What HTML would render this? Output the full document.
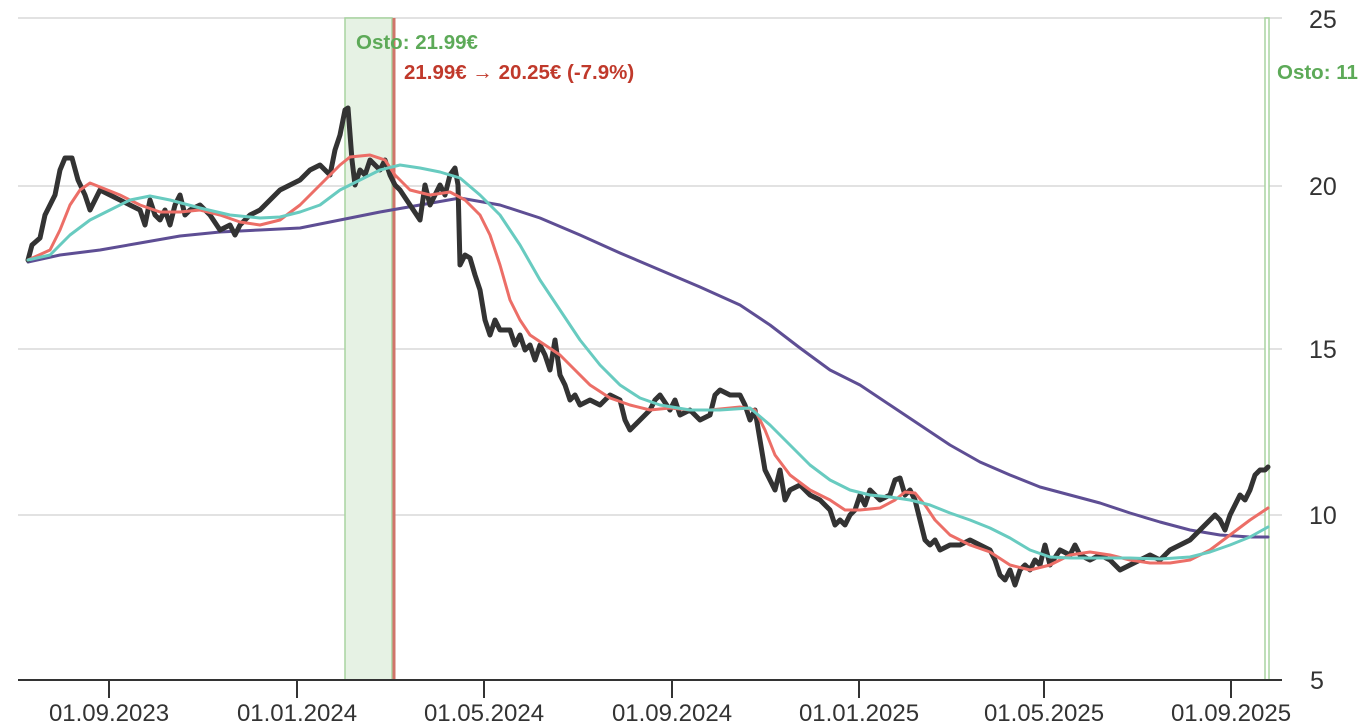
<!DOCTYPE html>
<html><head><meta charset="utf-8"><style>
html,body{margin:0;padding:0;background:#fff;}
svg{display:block;font-family:"Liberation Sans",sans-serif;}
</style></head><body>
<svg width="1358" height="728" viewBox="0 0 1358 728">
<g stroke="#e2e2e2" stroke-width="2">
<line x1="18" y1="18" x2="1282" y2="18"/>
<line x1="18" y1="186" x2="1282" y2="186"/>
<line x1="18" y1="349" x2="1282" y2="349"/>
<line x1="18" y1="515" x2="1282" y2="515"/>
</g>
<rect x="345" y="18" width="47" height="662" fill="#e6f2e4" stroke="#a8d4a0" stroke-width="1.5"/>
<line x1="394" y1="18" x2="394" y2="680" stroke="#d0756a" stroke-width="3"/>
<rect x="1265" y="18" width="4" height="662" fill="#fff" stroke="#a8d4a0" stroke-width="1.5"/>
<g fill="none" stroke-linejoin="round" stroke-linecap="round">
<polyline stroke="#5e4e94" stroke-width="3" points="28,262 60,255 100,250 140,243 180,236 220,232 260,230 300,228 340,220 380,212 420,205 460,198 500,205 540,218 580,235 620,253 660,270 700,287 740,305 770,325 800,348 830,370 860,385 890,405 920,425 950,445 980,462 1010,475 1040,487 1070,495 1100,503 1130,513 1160,522 1190,530 1220,535 1250,537 1268,537"/>
<polyline stroke="#333" stroke-width="5" points="28,260 32,245 40,238 45,215 50,205 55,195 60,170 65,158 72,158 78,180 85,195 90,210 95,200 100,190 110,195 120,200 130,205 140,210 145,225 150,200 155,215 160,220 165,210 170,225 175,205 180,195 185,215 190,210 200,205 210,215 220,230 230,225 235,235 240,225 250,215 260,210 270,200 280,190 290,185 300,180 310,170 320,165 330,175 335,150 340,135 345,110 348,108 352,160 355,185 360,170 365,175 370,160 380,170 385,160 390,175 395,185 400,190 410,205 420,220 425,185 430,205 440,185 445,195 450,175 455,168 458,185 460,265 465,255 470,258 475,275 480,290 485,320 490,335 495,320 500,330 510,330 515,345 520,335 525,350 530,345 535,360 540,345 545,355 550,370 555,340 560,375 565,385 570,400 575,395 580,405 590,400 600,405 610,395 620,400 625,420 630,430 640,420 650,410 655,400 660,395 670,410 675,400 680,415 690,410 700,420 710,415 715,395 720,390 730,395 740,395 745,405 750,420 755,410 760,440 765,470 770,480 775,490 780,470 785,500 790,490 800,485 810,495 820,500 830,510 835,525 840,520 845,525 850,515 855,510 860,495 865,505 870,490 880,500 890,495 895,480 900,478 905,495 910,490 915,500 920,520 925,540 930,545 935,540 940,550 950,545 960,545 970,540 980,545 990,550 995,560 1000,575 1005,580 1010,570 1015,585 1020,570 1025,565 1030,570 1035,560 1040,565 1045,545 1050,565 1060,550 1070,555 1075,545 1080,555 1090,560 1100,555 1110,560 1120,570 1130,565 1140,560 1150,555 1160,560 1170,550 1180,545 1190,540 1200,530 1210,520 1215,515 1220,520 1225,530 1230,515 1235,505 1240,495 1245,500 1250,490 1255,475 1260,470 1265,470 1268,467"/>
<polyline stroke="#ec6e67" stroke-width="3" points="28,260 50,250 60,230 70,205 80,190 90,183 100,187 120,195 140,205 160,212 180,212 200,210 220,215 240,222 260,225 280,220 300,205 320,185 340,165 350,157 370,155 385,160 395,175 410,190 430,195 450,192 465,200 480,215 490,235 500,265 510,300 520,320 530,335 545,345 560,355 575,370 590,385 610,398 630,405 650,410 670,408 690,410 710,410 740,407 755,410 765,430 775,455 790,475 810,490 830,500 845,510 860,510 880,508 895,500 905,492 915,493 925,505 935,520 950,535 970,545 990,552 1010,565 1030,570 1050,565 1070,555 1090,552 1110,555 1130,560 1150,563 1170,563 1190,560 1210,550 1230,535 1250,520 1268,508"/>
<polyline stroke="#68cbc0" stroke-width="3" points="28,260 50,255 70,235 90,220 110,210 130,200 150,196 170,200 200,208 230,215 260,218 280,217 300,212 320,205 340,190 360,180 380,170 400,165 420,168 440,172 460,178 480,195 500,215 520,245 540,280 560,310 580,340 600,365 620,385 640,398 660,405 690,410 720,410 750,408 770,425 790,445 810,465 830,480 850,490 870,495 890,497 910,500 930,505 950,513 970,520 990,528 1010,538 1030,550 1050,557 1070,558 1100,558 1130,558 1160,559 1190,557 1210,552 1230,545 1250,537 1268,527"/>
</g>
<line x1="18" y1="680" x2="1282" y2="680" stroke="#333" stroke-width="2"/>
<g stroke="#333" stroke-width="2">
<line x1="109" y1="680" x2="109" y2="698"/><line x1="297" y1="680" x2="297" y2="698"/>
<line x1="484" y1="680" x2="484" y2="698"/><line x1="672" y1="680" x2="672" y2="698"/>
<line x1="859" y1="680" x2="859" y2="698"/><line x1="1044" y1="680" x2="1044" y2="698"/>
<line x1="1231" y1="680" x2="1231" y2="698"/>
</g>
<g font-size="24" fill="#333" text-anchor="middle">
<text x="109" y="721">01.09.2023</text><text x="297" y="721">01.01.2024</text>
<text x="484" y="721">01.05.2024</text><text x="672" y="721">01.09.2024</text>
<text x="859" y="721">01.01.2025</text><text x="1044" y="721">01.05.2025</text>
<text x="1231" y="721">01.09.2025</text>
</g>
<g font-size="25" fill="#333" text-anchor="start">
<text x="1309" y="28">25</text><text x="1309" y="195">20</text>
<text x="1309" y="358">15</text><text x="1309" y="524">10</text>
<text x="1310" y="689">5</text>
</g>
<g font-size="20.5" font-weight="bold">
<text x="356" y="49" fill="#5daa58">Osto: 21.99€</text>
<text x="404" y="79" fill="#c0392b">21.99€ → 20.25€ (-7.9%)</text>
<text x="1277" y="79" fill="#5daa58">Osto: 11.</text>
</g>
</svg>
</body></html>
